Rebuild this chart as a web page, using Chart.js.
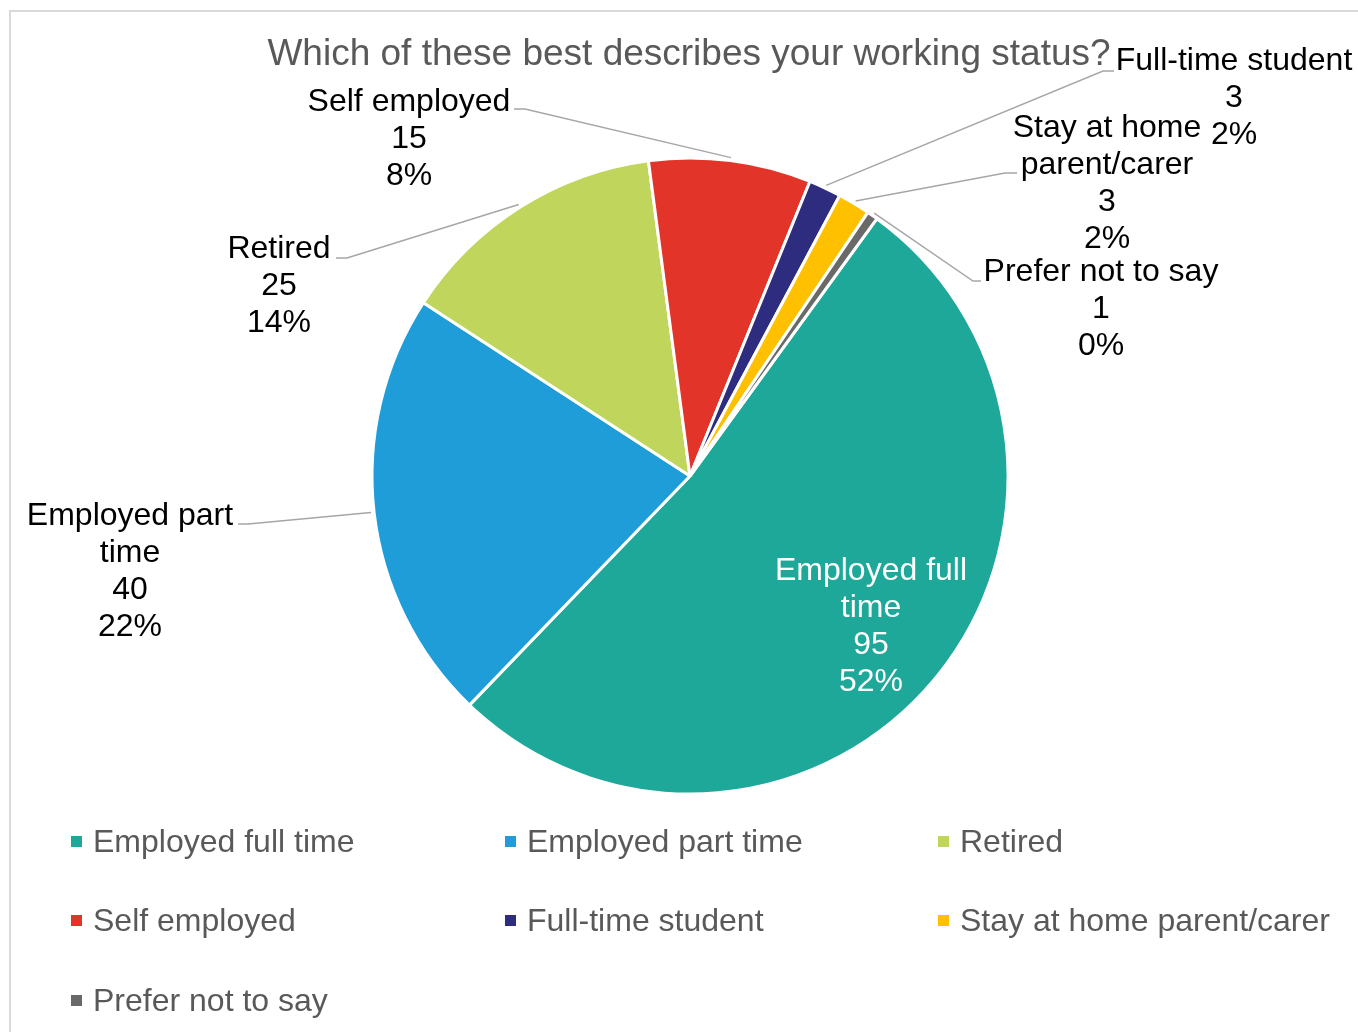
<!DOCTYPE html>
<html><head><meta charset="utf-8">
<script src="https://cdn.jsdelivr.net/npm/chart.js@4.4.1/dist/chart.umd.min.js"></script>
<style>
html,body{margin:0;padding:0;background:#fff;overflow:hidden;width:1358px;height:1032px;}
#frame{position:absolute;left:9px;top:10px;width:1400px;height:1100px;border:2px solid #d9d9d9;box-sizing:border-box;}
canvas{position:absolute;left:0;top:0;}
</style></head><body>
<div id="frame"></div>
<canvas id="c" width="1358" height="1032"></canvas>
<script>
// ---- data ----
const titleText = 'Which of these best describes your working status?';
const categories = ['Employed full time','Employed part time','Retired','Self employed','Full-time student','Stay at home parent/carer','Prefer not to say'];
const counts = [95, 40, 25, 15, 3, 3, 1];
const percentLabels = ['52%','22%','14%','8%','2%','2%','0%'];
const colors = ['#1DA89A','#1F9DD9','#BFD55B','#E3342A','#2E2C7E','#FFC000','#696969'];

// ---- layout (positions of labels, not data) ----
const labelLayout = [
  {cx:871, y:571, wrap:215, color:'#ffffff'},
  {cx:130, y:516, wrap:230, color:'#000000', elbow:[248,524], end:238},
  {cx:279, y:249, wrap:300, color:'#000000', elbow:[347,258], end:336},
  {cx:409, y:102, wrap:300, color:'#000000', elbow:[525,109], end:514},
  {cx:1234, y:61, wrap:300, color:'#000000', elbow:[1103,71], end:1114},
  {cx:1107, y:128, wrap:200, color:'#000000', elbow:[1005,173], end:1017},
  {cx:1101, y:272, wrap:300, color:'#000000', elbow:[973,281], end:981}
];
const legendCols = [71, 505, 938];
const legendRows = [843, 922, 1002];
const FONT = '"Liberation Sans", Arial, sans-serif';

function wrapText(ctx, text, maxW){
  const words = text.split(' ');
  const lines = []; let cur = '';
  for (const w of words){
    const t = cur ? cur + ' ' + w : w;
    if (cur && ctx.measureText(t).width > maxW){ lines.push(cur); cur = w; }
    else cur = t;
  }
  if (cur) lines.push(cur);
  return lines;
}

const overlay = {
  id:'overlay',
  afterDatasetsDraw(chart){
    const ctx = chart.ctx;
    const meta = chart.getDatasetMeta(0);
    ctx.save();
    // title
    ctx.font = '37px ' + FONT;
    ctx.fillStyle = '#595959';
    ctx.textAlign = 'center';
    ctx.textBaseline = 'middle';
    ctx.fillText(titleText, 689, 55);
    // data labels
    meta.data.forEach((arc, i) => {
      const L = labelLayout[i];
      const p = arc.getProps(['x','y','startAngle','endAngle','outerRadius'], true);
      const mid = (p.startAngle + p.endAngle) / 2;
      if (L.elbow){
        const r = p.outerRadius + 3;
        const ax = p.x + Math.cos(mid) * r, ay = p.y + Math.sin(mid) * r;
        ctx.strokeStyle = '#a6a6a6';
        ctx.lineWidth = 1.5;
        ctx.beginPath();
        ctx.moveTo(ax, ay);
        ctx.lineTo(L.elbow[0], L.elbow[1]);
        ctx.lineTo(L.end, L.elbow[1]);
        ctx.stroke();
      }
      ctx.font = '32px ' + FONT;
      ctx.fillStyle = L.color;
      const lines = wrapText(ctx, categories[i], L.wrap).concat([String(counts[i]), percentLabels[i]]);
      lines.forEach((t, k) => ctx.fillText(t, L.cx, L.y + k * 37));
    });
    // legend
    ctx.textAlign = 'left';
    ctx.font = '32px ' + FONT;
    categories.forEach((c, i) => {
      const x = legendCols[i % 3], y = legendRows[Math.floor(i / 3)];
      ctx.fillStyle = colors[i];
      ctx.fillRect(x, y - 7, 11, 11);
      ctx.fillStyle = '#595959';
      ctx.fillText(c, x + 22, y);
    });
    ctx.restore();
  }
};

new Chart(document.getElementById('c'), {
  type: 'pie',
  data: {
    labels: categories,
    datasets: [{
      data: counts,
      backgroundColor: colors,
      borderColor: '#ffffff',
      borderWidth: 3,
      radius: 318
    }]
  },
  options: {
    responsive: false,
    animation: false,
    devicePixelRatio: 1,
    rotation: 36,
    layout: { padding: { left: 372, right: 350, top: 158, bottom: 238 } },
    plugins: { legend: { display: false }, title: { display: false }, tooltip: { enabled: false } }
  },
  plugins: [overlay]
});
</script>
</body></html>
